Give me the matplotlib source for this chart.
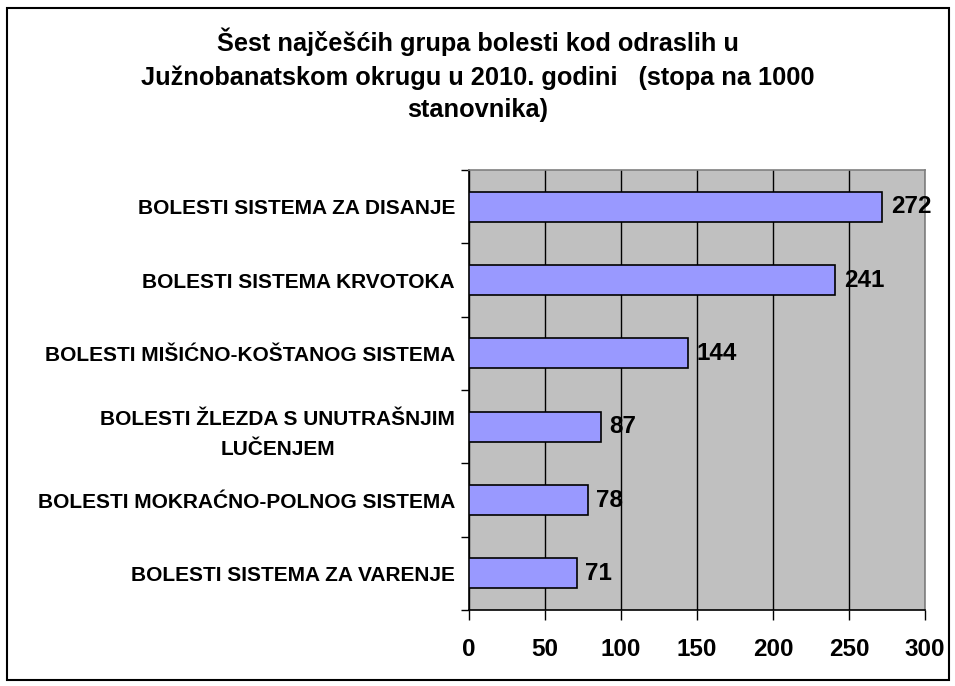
import matplotlib
matplotlib.use("Agg")
from matplotlib import pyplot as plt
from matplotlib.patches import Rectangle

CATEGORIES = [
    "BOLESTI SISTEMA ZA DISANJE",
    "BOLESTI SISTEMA KRVOTOKA",
    "BOLESTI MIŠIĆNO-KOŠTANOG SISTEMA",
    "BOLESTI ŽLEZDA S UNUTRAŠNJIM\nLUČENJEM",
    "BOLESTI MOKRAĆNO-POLNOG SISTEMA",
    "BOLESTI SISTEMA ZA VARENJE",
]
VALUES = [272, 241, 144, 87, 78, 71]
X_TICKS = [0, 50, 100, 150, 200, 250, 300]
TITLE = ("Šest najčešćih grupa bolesti kod odraslih u\n"
         "Južnobanatskom okrugu u 2010. godini   (stopa na 1000\n"
         "stanovnika)")

plt.rcParams["font.family"] = ["Liberation Sans", "DejaVu Sans"]
plt.rcParams["font.weight"] = "bold"

fig = plt.figure(figsize=(9.55, 6.86), dpi=100)
ax = fig.add_axes([469 / 955, 1 - 610 / 686, 456 / 955, 440 / 686])

n = len(CATEGORIES)
ys = list(range(n))[::-1]
ax.set_facecolor("#c0c0c0")
ax.barh(ys, VALUES, height=0.41, color="#9999ff", edgecolor="black",
        linewidth=1.2, zorder=3)
for y, v in zip(ys, VALUES):
    ax.annotate(str(v), (v, y), xytext=(6, 0), textcoords="offset points",
                va="center", ha="left", fontsize=17.5, fontweight="bold",
                zorder=4)

ax.set_xlim(0, 300)
ax.set_ylim(-0.5, n - 0.5)
ax.set_xticks(X_TICKS)
ax.set_xticklabels([str(t) for t in X_TICKS], fontsize=17.5, fontweight="bold")
ax.tick_params(axis="x", direction="out", length=7, width=1, pad=13)
ax.xaxis.grid(True, color="black", linewidth=1, zorder=1)
ax.set_axisbelow(True)

# category labels between boundary ticks
ax.set_yticks([i - 0.5 for i in range(n + 1)])
ax.set_yticklabels([])
ax.set_yticks(ys, minor=True)
ax.set_yticklabels(CATEGORIES, minor=True, fontsize=15, fontweight="bold",
                   ha="right", multialignment="center", linespacing=1.75)
ax.tick_params(axis="y", which="major", direction="out", length=6, width=1)
ax.tick_params(axis="y", which="minor", length=0, pad=10)

for side in ["left", "bottom"]:
    ax.spines[side].set_color("black")
    ax.spines[side].set_linewidth(1.2)
for side in ["top", "right"]:
    ax.spines[side].set_color("#808080")
    ax.spines[side].set_linewidth(1.2)

fig.text(0.5, 1 - 75 / 686, TITLE, ha="center", va="center", fontsize=18.3,
         fontweight="bold", linespacing=1.45)

fig.patches.append(Rectangle((7 / 955, 1 - 680 / 686), 942 / 955, 672 / 686,
                             transform=fig.transFigure, fill=False,
                             edgecolor="black", linewidth=1.5))

fig.savefig("out.png", dpi=100)
